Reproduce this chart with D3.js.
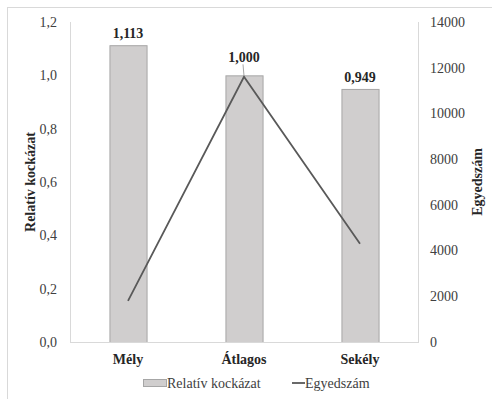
<!DOCTYPE html>
<html><head><meta charset="utf-8">
<script src="https://cdn.jsdelivr.net/npm/d3@7"></script>
<style>body{margin:0;background:#fff}svg{display:block}</style>
</head><body>
<script>
const categories = ["Mély", "Átlagos", "Sekély"];
const relRisk = [1.113, 1.000, 0.949];
const relRiskLabels = ["1,113", "1,000", "0,949"];
const counts = [1800, 11600, 4300];
const leftTicks = [0, 0.2, 0.4, 0.6, 0.8, 1.0, 1.2];
const rightTicks = [0, 2000, 4000, 6000, 8000, 10000, 12000, 14000];

const FONT = "Liberation Serif";
const FS = 14;
const W = 492, H = 399;
const svg = d3.select("body").append("svg").attr("width", W).attr("height", H);
svg.append("rect").attr("x", 7.5).attr("y", 7.5).attr("width", 600).attr("height", 600)
  .attr("fill", "#fff").attr("stroke", "#d9d9d9");

const m = {l: 70, r: 418, t: 22, b: 342};
const x = d3.scaleBand().domain(categories).range([m.l, m.r]).paddingInner(0.68).paddingOuter(0.34);
const yL = d3.scaleLinear().domain([0, 1.2]).range([m.b, m.t]);
const yR = d3.scaleLinear().domain([0, 14000]).range([m.b, m.t]);
const fmt = d => d3.format(".1f")(d).replace(".", ",");

svg.append("line").attr("x1", m.l + .5).attr("x2", m.l + .5).attr("y1", m.t).attr("y2", m.b).attr("stroke", "#d9d9d9");
svg.append("line").attr("x1", m.r + .5).attr("x2", m.r + .5).attr("y1", m.t).attr("y2", m.b).attr("stroke", "#d9d9d9");

svg.selectAll("rect.bar").data(categories).enter().append("rect").attr("class", "bar")
  .attr("x", d => x(d) + .5).attr("width", x.bandwidth())
  .attr("y", (d, i) => yL(relRisk[i]) + .5).attr("height", (d, i) => m.b - yL(relRisk[i]))
  .attr("fill", "#d0cece").attr("stroke", "#a6a6a6").attr("stroke-width", 1);

svg.append("line").attr("x1", m.l).attr("x2", m.r + 1).attr("y1", m.b + .5).attr("y2", m.b + .5).attr("stroke", "#d9d9d9");

const T = sel => sel.attr("font-family", FONT).attr("font-size", FS).attr("fill", "#404040");

T(svg.selectAll("text.tl").data(leftTicks).enter().append("text").attr("class", "tl")
  .attr("x", 57).attr("y", d => yL(d)).attr("dy", "0.35em").attr("text-anchor", "end")).text(fmt);
T(svg.selectAll("text.tr").data(rightTicks).enter().append("text").attr("class", "tr")
  .attr("x", 430).attr("y", d => yR(d)).attr("dy", "0.35em").attr("text-anchor", "start")).text(d => d);

T(svg.selectAll("text.cat").data(categories).enter().append("text").attr("class", "cat")
  .attr("x", d => x(d) + x.bandwidth() / 2).attr("y", 359).attr("dy", "0.35em").attr("text-anchor", "middle")
  .attr("font-weight", "bold")).attr("fill", "#262626").text(d => d);

const line = d3.line().x((d, i) => x(categories[i]) + x.bandwidth() / 2).y(d => yR(d));
svg.append("path").datum(counts).attr("d", line).attr("fill", "none")
  .attr("stroke", "#595959").attr("stroke-width", 1.8);

const labelOffset = [12, 18, 12];
T(svg.selectAll("text.val").data(categories).enter().append("text").attr("class", "val")
  .attr("x", d => x(d) + x.bandwidth() / 2)
  .attr("y", (d, i) => yL(relRisk[i]) - labelOffset[i]).attr("dy", "0.35em").attr("text-anchor", "middle")
  .attr("font-weight", "bold")).attr("fill", "#262626").text((d, i) => relRiskLabels[i]);
{
  const cx = x(categories[1]) + x.bandwidth() / 2;
  svg.append("line").attr("x1", cx - 1).attr("y1", yL(relRisk[1]) - 11).attr("x2", cx).attr("y2", yR(counts[1]) - 1)
    .attr("stroke", "#a6a6a6").attr("stroke-width", 1);
}

T(svg.append("text").attr("transform", `translate(30,${(m.t + m.b) / 2}) rotate(-90)`)
  .attr("text-anchor", "middle").attr("dy", "0.35em").attr("font-weight", "bold"))
  .attr("fill", "#262626").text("Relatív kockázat");
T(svg.append("text").attr("transform", `translate(477,${(m.t + m.b) / 2}) rotate(-90)`)
  .attr("text-anchor", "middle").attr("dy", "0.35em").attr("font-weight", "bold"))
  .attr("fill", "#262626").text("Egyedszám");

svg.append("rect").attr("x", 143.5).attr("y", 379.5).attr("width", 23).attr("height", 7)
  .attr("fill", "#d0cece").attr("stroke", "#a6a6a6");
T(svg.append("text").attr("x", 167).attr("y", 383).attr("dy", "0.35em")).text("Relatív kockázat");
svg.append("line").attr("x1", 292).attr("x2", 305).attr("y1", 383).attr("y2", 383).attr("stroke", "#595959").attr("stroke-width", 1.8);
T(svg.append("text").attr("x", 305).attr("y", 383).attr("dy", "0.35em")).text("Egyedszám");
</script>
</body></html>
